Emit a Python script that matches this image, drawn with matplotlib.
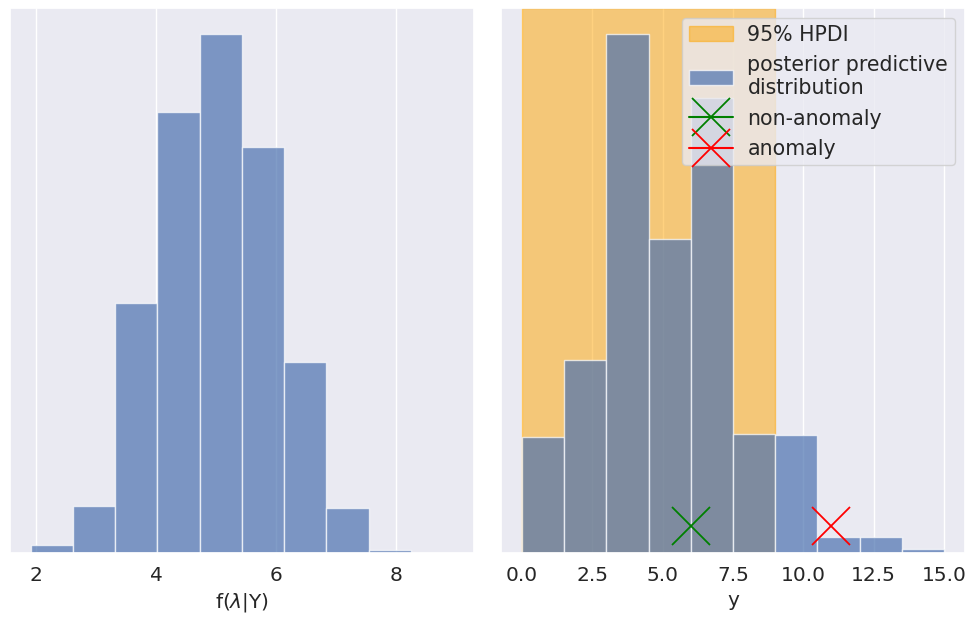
import matplotlib
matplotlib.use('Agg')
import matplotlib.pyplot as plt
import seaborn as sns
import numpy as np

sns.set_theme(style='darkgrid')
plt.rcParams['font.family'] = ['DejaVu Sans']

# posterior of lambda (histogram)
lam_edges = [1.92, 2.62, 3.32, 4.02, 4.73, 5.43, 6.13, 6.83, 7.54, 8.24, 8.94]
lam_counts = [8, 47, 250, 442, 520, 407, 191, 45, 3, 0]

# posterior predictive of y
y_edges = [0, 1.5, 3, 4.5, 6, 7.5, 9, 10.5, 12, 13.5, 15]
y_counts = [116, 193, 520, 315, 456, 119, 118, 16, 16, 4]

hpdi = [0, 9]
non_anomaly = 6
anomaly = 11
marker_height = 27

fs = 14.5

fig, (ax1, ax2) = plt.subplots(1, 2, figsize=(9.69, 6.27), dpi=100)
fig.subplots_adjust(left=10/969, right=965/969, bottom=1-553/627, top=1-8/627, wspace=0.058)

lam_centers = (np.array(lam_edges[:-1]) + np.array(lam_edges[1:])) / 2
ax1.hist(lam_centers, bins=lam_edges, weights=lam_counts, alpha=0.7)
ax1.set_yticks([])
ax1.set_xticks([2, 4, 6, 8])
ax1.set_xlabel(r'f($\lambda$|Y)', fontsize=fs)
ax1.tick_params(axis='x', labelsize=fs)

y_centers = (np.array(y_edges[:-1]) + np.array(y_edges[1:])) / 2
ax2.axvspan(hpdi[0], hpdi[1], color='orange', alpha=0.5, label='95% HPDI')
ax2.hist(y_centers, bins=y_edges, weights=y_counts, alpha=0.7,
         label='posterior predictive\ndistribution')
ax2.plot([non_anomaly], [marker_height], marker='x', color='green',
         markersize=28, markeredgewidth=1.3, label='non-anomaly')
ax2.plot([anomaly], [marker_height], marker='x', color='red',
         markersize=28, markeredgewidth=1.3, label='anomaly')
ax2.set_yticks([])
ax2.set_xlabel('y', fontsize=fs)
ax2.tick_params(axis='x', labelsize=fs)
ax2.legend(loc='upper right', fontsize=14.8, labelspacing=0.5, handletextpad=0.7,
           handlelength=2.15, borderpad=0.32)

plt.savefig('out.png')
